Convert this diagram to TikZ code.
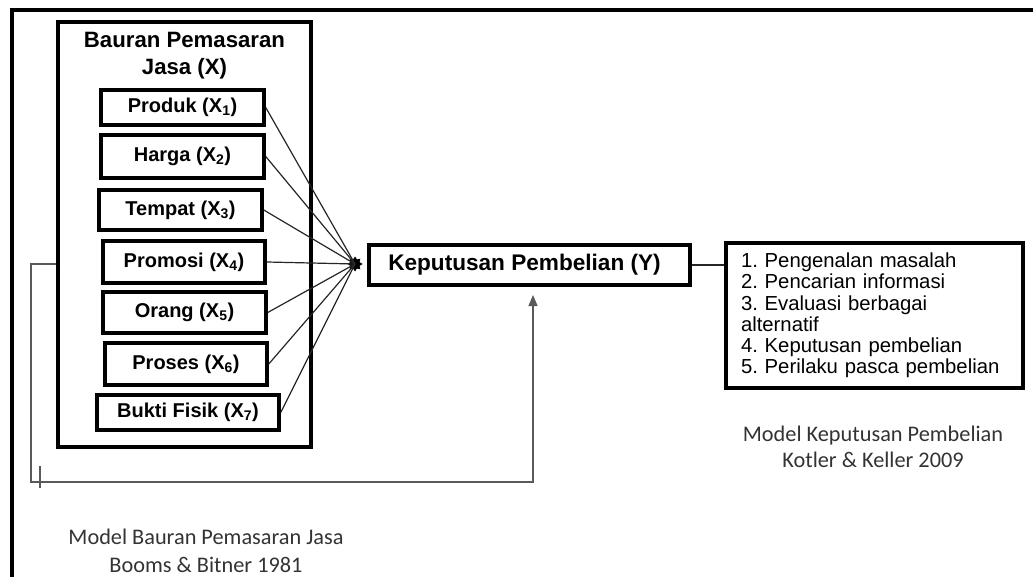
\documentclass[tikz,border=0pt]{standalone}
\usepackage{fontspec}
\setmainfont{Liberation Sans}
\newfontfamily\capfont{Carlito}
\usetikzlibrary{arrows.meta,shapes.geometric}
\begin{document}
\frenchspacing
\begin{tikzpicture}[x=1pt,y=-1pt,
  frame/.style={line width=3.8pt},
  bigbox/.style={draw,line width=3.5pt,rectangle,inner sep=0pt},
  item/.style={draw,line width=3.5pt,rectangle,inner sep=0pt,font=\fontsize{20}{22}\selectfont\bfseries},
  ttl/.style={align=center,font=\fontsize{22.2}{27}\selectfont\bfseries,inner sep=0pt},
  kbox/.style={draw,line width=3.5pt,rectangle,inner sep=0pt,font=\fontsize{22.6}{26}\selectfont\bfseries},
  lbox/.style={draw,line width=3.5pt,rectangle,inner xsep=15pt,inner ysep=0pt,align=left,font=\fontsize{20.3}{21.3}\selectfont},
  captxt/.style={align=center,text=black!80,font=\capfont\fontsize{22.3}{26}\selectfont,inner sep=0pt},
  link/.style={line width=1.2pt,draw=black!85},
  fb/.style={line width=1.3pt,draw=black!65}
]
\useasboundingbox (0,0) rectangle (1033,577);
% outer frame
\coordinate (o1) at (12,577);
\coordinate (o2) at (12,10);
\coordinate (o3) at (1033,10);
\draw[frame] (o1) -- (o2) -- (o3);

% big box
\node[bigbox,minimum width=253pt,minimum height=425pt] (X) at (184.5,234.5) {};
\node[ttl] (Xt) at (184.5,56) {Bauran Pemasaran\\Jasa (X)};

\node[item,minimum width=163pt,minimum height=35pt] (x1) at (182.5,107.5) {Produk (X\textsubscript{1})};
\node[item,minimum width=163pt,minimum height=43pt] (x2) at (182.5,156.5) {Harga (X\textsubscript{2})};
\node[item,minimum width=163pt,minimum height=40pt] (x3) at (180.5,210) {Tempat (X\textsubscript{3})};
\node[item,minimum width=162pt,minimum height=42pt] (x4) at (184,262) {Promosi (X\textsubscript{4})};
\node[item,minimum width=163pt,minimum height=41pt] (x5) at (184.5,312.5) {Orang (X\textsubscript{5})};
\node[item,minimum width=162pt,minimum height=42pt] (x6) at (186,364) {Proses (X\textsubscript{6})};
\node[item,minimum width=182pt,minimum height=35pt] (x7) at (188,412.5) {Bukti Fisik (X\textsubscript{7})};

% junction
\node[star,star points=8,star point ratio=1.5,fill=black,inner sep=0pt,minimum size=15pt] (j) at (355,264) {};
\foreach \i in {1,...,7} {\draw[link] (x\i.east) -- (j.center);}

% Y box
\node[kbox,minimum width=321pt,minimum height=40pt] (K) at (529.5,265) {Keputusan Pembelian (Y)\hspace*{10pt}};

% list box
\node[lbox,text width=267pt,minimum height=145pt] (L) at (874.5,315.5) {1. Pengenalan masalah\\2. Pencarian informasi\\3. Evaluasi berbagai\\alternatif\\4. Keputusan pembelian\\5. Perilaku pasca pembelian};
\draw[link] (K.east) -- (L.west |- K.east);

% feedback
\coordinate (fc) at (31,482);
\coordinate (tip) at (533,295);
\draw[fb,-{Triangle[length=11pt,width=9pt]}] (X.west |- j) -| (fc) -| (tip);
\coordinate (tk1) at (40,466);
\coordinate (tk2) at (40,488);
\draw[fb] (tk1) -- (tk2);

% captions
\node[captxt] (c1) at (873,447) {Model Keputusan Pembelian\\Kotler \& Keller 2009};
\node[captxt] (c2) at (206,551) {Model Bauran Pemasaran Jasa\\[2pt]Booms \& Bitner 1981};
\end{tikzpicture}
\end{document}
